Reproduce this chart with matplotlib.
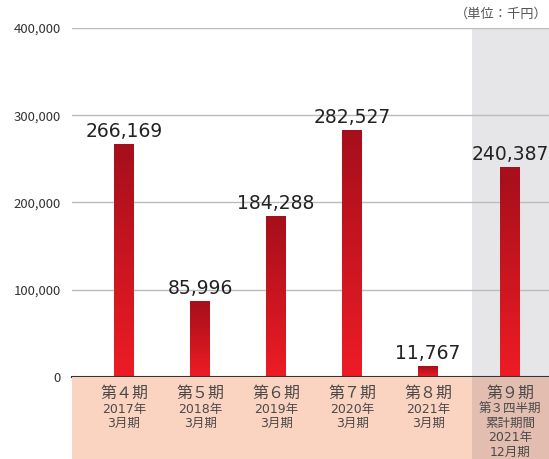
import numpy as np
import matplotlib.pyplot as plt
from matplotlib.colors import LinearSegmentedColormap

plt.rcParams['font.family'] = ['Noto Sans CJK JP', 'DejaVu Sans']

# data
periods = ['第４期', '第５期', '第６期', '第７期', '第８期', '第９期']
sub_labels = ['2017年\n3月期', '2018年\n3月期', '2019年\n3月期', '2020年\n3月期',
              '2021年\n3月期', '第３四半期\n累計期間\n2021年\n12月期']
values = [266169, 85996, 184288, 282527, 11767, 240387]
xpos = [0, 1, 2, 3, 4, 5.08]

fig = plt.figure(figsize=(5.49, 4.59), dpi=100)
ax = fig.add_axes([72/549, 82/459, 477/549, 349/459])
lab = fig.add_axes([72/549, 0, 477/549, 82/459], sharex=ax)

xmin, xmax = -0.684, 5.59
band0 = 4.58

# grey band for the latest period
ax.axvspan(band0, xmax, color='#e6e6e8', zorder=0, lw=0)

# gradient bars
cmap = LinearSegmentedColormap.from_list('redgrad', ['#ee1c25', '#a50f1b'])
grad = np.linspace(0, 1, 256).reshape(-1, 1)
w = 0.26
for x, v in zip(xpos, values):
    ax.imshow(grad, cmap=cmap, origin='lower', aspect='auto',
              extent=[x - w/2, x + w/2, 0, v], zorder=3)
    ax.text(x, v + 4000, f'{v:,}', ha='center', va='bottom',
            fontsize=13.5, color='#222222', family='DejaVu Sans', zorder=4)

ax.set_xlim(xmin, xmax)
ax.set_ylim(0, 400000)
ax.set_yticks([0, 100000, 200000, 300000, 400000])
ax.set_yticklabels(['0', '100,000', '200,000', '300,000', '400,000'],
                   fontsize=9.5, color='#333333')
ax.tick_params(axis='y', length=0, pad=8)
ax.tick_params(axis='x', bottom=False, labelbottom=False)
ax.grid(axis='y', color='#bbbbbb', lw=1, zorder=1)
for s in ['top', 'right', 'left']:
    ax.spines[s].set_visible(False)
ax.spines['bottom'].set_color('#333333')
ax.spines['bottom'].set_linewidth(1.5)
ax.spines['bottom'].set_zorder(5)
ax.set_facecolor('none')

# label strip (units: pixels from bottom)
lab.set_ylim(0, 82)
lab.axis('off')
lab.add_patch(plt.Rectangle((0, 0), 1, 1, transform=lab.transAxes,
                            color='#fbd3c1', zorder=0))
lab.axvspan(band0, xmax, color='#e2bdb0', lw=0, zorder=1)
for x, p, s in zip(xpos, periods, sub_labels):
    lab.text(x, 66, p, ha='center', va='center', fontsize=11.5, color='#4a4a4a')
    for i, line in enumerate(s.split('\n')):
        lab.text(x, 50 - 14.5 * i, line, ha='center', va='center',
                 fontsize=9, color='#4a4a4a',
                 family=['DejaVu Sans', 'Noto Sans CJK JP'])

fig.text(548/549, 1 - 14/459, '（単位：千円）', ha='right', va='center',
         fontsize=9.5, color='#555555')

fig.savefig('out.png', dpi=100)
